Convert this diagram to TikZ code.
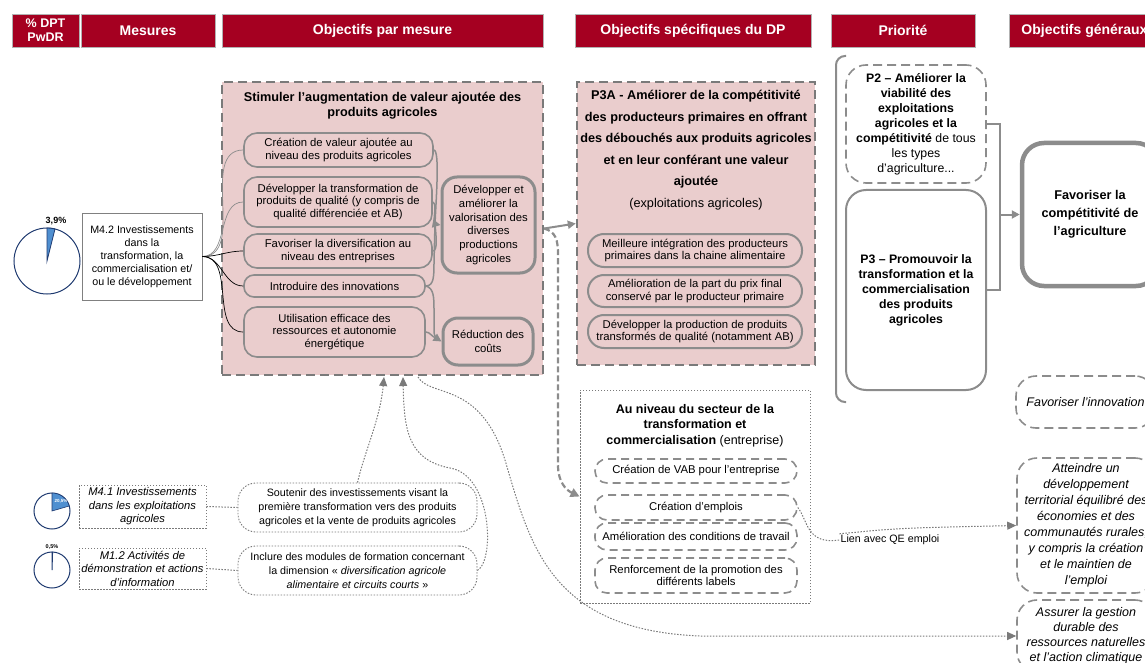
\documentclass[tikz,border=0pt]{standalone}
\usepackage{fontspec}
\setmainfont{Liberation Sans}
\usetikzlibrary{arrows.meta,calc}

\definecolor{hred}{HTML}{A50021}
\definecolor{pinkf}{HTML}{EACDCD}
\definecolor{lgray}{HTML}{8C8C8C}
\definecolor{dgray}{HTML}{7A7A7A}
\definecolor{navy}{HTML}{1F3A70}
\definecolor{pieblue}{HTML}{4F8FD0}

\begin{document}
\begin{tikzpicture}[x=1pt,y=-1pt,
  hdr/.style={draw=gray!60, line width=0.5pt, fill=hred, text=white,
    font=\bfseries\fontsize{14}{15}\selectfont, inner sep=0pt, align=center, minimum height=33pt},
  pinkbox/.style={draw=dgray, fill=pinkf, line width=2.4pt, dash pattern=on 9pt off 5pt, inner sep=0pt},
  rbox/.style={draw=lgray, fill=pinkf, line width=1.6pt, rounded corners=13pt, align=center,
    inner sep=0pt, font=\fontsize{11.3}{12.5}\selectfont},
  tbox/.style={rbox, line width=3pt, rounded corners=15pt},
  pill/.style={draw=lgray, fill=pinkf, line width=2pt, rounded corners=16pt, align=center,
    inner sep=0pt, font=\fontsize{11.3}{12.5}\selectfont},
  dpill/.style={draw=lgray, line width=1.6pt, dash pattern=on 8pt off 5pt, rounded corners=12pt,
    align=center, inner sep=0pt, font=\fontsize{11.3}{12.5}\selectfont},
  dotbox/.style={draw=dgray, line width=0.9pt, dash pattern=on 1.5pt off 1.5pt, inner sep=0pt, align=center},
  gline/.style={draw=lgray, line width=1.5pt},
  garrow/.style={gline, -{Triangle[length=8pt,width=8pt]}},
  mline/.style={line width=0.7pt},
  dotc/.style={draw=dgray, line width=1pt, dash pattern=on 1.5pt off 1.5pt},
  dotarrow/.style={dotc, -{Triangle[length=9pt,width=8pt]}},
  idash/.style={draw=lgray, line width=1.6pt, dash pattern=on 9pt off 5pt, rounded corners=20pt,
    align=center, inner sep=0pt, font=\itshape\fontsize{12.5}{16}\selectfont},
]
\useasboundingbox (0,0) rectangle (1145,663);

% ---------- column headers ----------
\node[hdr, minimum width=67pt, font=\bfseries\fontsize{12.5}{14}\selectfont] (h1) at (45.5,30.5) {\% DPT\\PwDR};
\node[hdr, minimum width=134pt] (h2) at (148,30.5) {Mesures};
\node[hdr, minimum width=321pt] (h3) at (382.5,30.5) {Objectifs par mesure};
\node[hdr, minimum width=236pt] (h4) at (693,30.5) {Objectifs spécifiques du DP};
\node[hdr, minimum width=144pt] (h5) at (903,30.5) {Priorité};
\node[hdr, minimum width=151pt] (h6) at (1084.5,30.5) {Objectifs généraux};

% ---------- measure M4.2 ----------
\draw[navy, line width=1pt] (47,261) circle[radius=33pt];
\filldraw[fill=pieblue, draw=navy, line width=0.8pt] (47,261) -- (47,228) arc[start angle=90, end angle=76, radius=33pt] -- cycle;
\node[font=\bfseries\fontsize{9}{10}\selectfont, inner sep=0pt] (p1l) at (56,221) {3,9\%};
\node[draw=gray, line width=0.6pt, minimum width=120pt, minimum height=87pt, align=center, inner sep=0pt,
  font=\fontsize{10.7}{13}\selectfont] (m42) at (142,256.5)
  {M4.2 Investissements\\dans la\\transformation, la\\commercialisation et/\\ou le développement};

% ---------- objectives per measure ----------
\node[pinkbox, minimum width=321pt, minimum height=293pt] (stim) at (382.5,228.5) {};
\node[font=\bfseries\fontsize{12.7}{14.5}\selectfont, align=center, inner sep=0pt] (stimt) at (382.5,105.5)
  {Stimuler l’augmentation de valeur ajoutée des\\produits agricoles};
\node[rbox, minimum width=189pt, minimum height=34pt] (cva) at (338.5,150) {Création de valeur ajoutée au\\niveau des produits agricoles};
\node[rbox, minimum width=188pt, minimum height=50pt] (dtq) at (338,202) {Développer la transformation de\\produits de qualité (y compris de\\qualité différenciée et AB)};
\node[rbox, minimum width=188pt, minimum height=34pt] (fdv) at (338,251) {Favoriser la diversification au\\niveau des entreprises};
\node[rbox, minimum width=181pt, minimum height=22pt, rounded corners=10pt] (iin) at (334.5,286) {Introduire des innovations};
\node[rbox, minimum width=181pt, minimum height=50pt] (uti) at (334.5,332) {Utilisation efficace des\\ressources et autonomie\\énergétique};
\node[tbox, minimum width=93pt, minimum height=96pt, font=\fontsize{11.3}{13.7}\selectfont] (dev) at (488.5,225)
  {Développer et\\améliorer la\\valorisation des\\diverses\\productions\\agricoles};
\node[tbox, minimum width=90pt, minimum height=47pt, font=\fontsize{11.3}{13.7}\selectfont] (red) at (488,341.5) {Réduction des\\coûts};

\coordinate (cv1) at (435,224);
\coordinate (cv2) at (436,338);
\draw[gline] (cva.east) .. controls (440,150) and (436,200) .. (cv1);
\draw[gline] (dtq.east) .. controls (438,205) and (432,220) .. (cv1);
\draw[gline] (fdv.east) .. controls (438,251) and (436,235) .. (cv1);
\draw[gline] (iin.east) .. controls (434,286) and (434,276) .. (434,262) -- (cv1);
\draw[garrow] (cv1) -- (dev.west);
\draw[gline] (iin.east) .. controls (434,288) and (434,298) .. (434,310) -- (434,328) .. controls (434,334) .. (cv2);
\draw[gline] (uti.east) .. controls (430,332) and (432,337) .. (cv2);
\draw[garrow] (cv2) -- (red.west);

\draw[mline, draw=lgray] (m42.east) to[out=0, in=180] (cva.west);
\draw[mline, draw=lgray] (m42.east) to[out=0, in=180] (dtq.west);
\draw[mline] (m42.east) to[out=0, in=180] (fdv.west);
\draw[mline] (m42.east) to[out=0, in=180] (iin.west);
\draw[mline] (m42.east) to[out=0, in=180] (uti.west);

% ---------- specific objective P3A ----------
\node[pinkbox, minimum width=238pt, minimum height=283pt] (p3a) at (696,223.5) {};
\node[font=\bfseries\fontsize{12.7}{21.5}\selectfont, align=center, inner sep=0pt, anchor=north] (p3at) at (696,90)
  {P3A - Améliorer de la compétitivité\\des producteurs primaires en offrant\\des débouchés aux produits agricoles\\et en leur conférant une valeur\\ajoutée\\{\mdseries (exploitations agricoles)}};
\node[pill, minimum width=214pt, minimum height=33pt] (mi) at (695,250.5) {Meilleure intégration des producteurs\\primaires dans la chaine alimentaire};
\node[pill, minimum width=214pt, minimum height=32pt] (am) at (695,291) {Amélioration de la part du prix final\\conservé par le producteur primaire};
\node[pill, minimum width=214pt, minimum height=33pt] (dp) at (695,331.5) {Développer la production de produits\\transformés de qualité (notamment AB)};

\draw[garrow, line width=2pt] (stim.east) -- (p3a.west);

% ---------- processing sector ----------
\node[dotbox, minimum width=230pt, minimum height=213pt] (ent) at (695,496.5) {};
\node[align=center, inner sep=0pt, font=\fontsize{12.5}{15.5}\selectfont] (entt) at (695,425.5)
  {\textbf{Au niveau du secteur de la}\\\textbf{transformation et}\\\textbf{commercialisation} (entreprise)};
\node[dpill, minimum width=202pt, minimum height=24pt] (vab) at (696,471) {Création de VAB pour l’entreprise};
\node[dpill, minimum width=202pt, minimum height=25pt] (emp) at (696,507.5) {Création d’emplois};
\node[dpill, minimum width=202pt, minimum height=27pt] (amc) at (696,536.5) {Amélioration des conditions de travail};
\node[dpill, minimum width=202pt, minimum height=35pt] (ren) at (696,575.5) {Renforcement de la promotion des\\différents labels};

\draw[draw=lgray, line width=2.2pt, dash pattern=on 6pt off 3pt, -{Triangle[length=9pt,width=9pt]}]
  (stim.east) .. controls (556,232) and (558,240) .. (558,255) -- (558,465) .. controls (558,482) and (566,490) .. (ent.west);

% ---------- priorities ----------
\draw[draw=lgray, line width=2pt, rounded corners=9pt] (846,56) -- (836,56) -- (836,402) -- (846,402);
\node[draw=lgray, line width=1.6pt, dash pattern=on 9pt off 5pt, rounded corners=20pt, minimum width=140pt,
  minimum height=118pt, align=center, inner sep=0pt, font=\fontsize{12.3}{15}\selectfont] (p2) at (916,124)
  {\textbf{P2 – Améliorer la}\\\textbf{viabilité des}\\\textbf{exploitations}\\\textbf{agricoles et la}\\\textbf{compétitivité} de tous\\les types\\d’agriculture...};
\node[draw=lgray, line width=2pt, rounded corners=20pt, minimum width=140pt, minimum height=200pt,
  align=center, inner sep=0pt, font=\bfseries\fontsize{12.3}{15}\selectfont] (p3) at (916,290)
  {P3 – Promouvoir la\\transformation et la\\commercialisation\\des produits\\agricoles};

% ---------- general objectives ----------
\node[draw=lgray, line width=4.5pt, rounded corners=22pt, minimum width=136pt, minimum height=143pt,
  align=center, inner sep=0pt, font=\bfseries\fontsize{12.7}{18}\selectfont] (fav) at (1090,214.5)
  {Favoriser la\\compétitivité de\\l’agriculture};
\coordinate (pj) at (1000,214.5);
\draw[gline, line width=2pt] (p2.east) -- (1000,124) -- (1000,290) -- (p3.east);
\draw[garrow, line width=2pt] (pj) -- (fav.west);

\node[idash, minimum width=139pt, minimum height=52pt] (inn) at (1085.5,402) {Favoriser l’innovation};
\node[idash, minimum width=138pt, minimum height=135pt] (att) at (1086,525.5)
  {Atteindre un\\développement\\territorial équilibré des\\économies et des\\communautés rurales,\\y compris la création\\et le maintien de\\l’emploi};
\node[idash, minimum width=138pt, minimum height=72pt, font=\itshape\fontsize{12.5}{15}\selectfont] (ass) at (1086,636)
  {Assurer la gestion\\durable des\\ressources naturelles\\et l’action climatique};

\node[font=\fontsize{10.7}{12}\selectfont, inner sep=1pt] (lien) at (890,540) {Lien avec QE emploi};
\draw[dotc] (emp.east) .. controls (808,520) and (806,545) .. (lien.west);
\draw[dotarrow] (lien.north west) .. controls (900,528) .. (att.west);

% ---------- measures M4.1 and M1.2 ----------
\draw[navy, line width=1pt] (52,511) circle[radius=18pt];
\filldraw[fill=pieblue, draw=navy, line width=0.6pt] (52,511) -- (52,493) arc[start angle=90, end angle=16.2, radius=18pt] -- cycle;
\node[text=white, font=\bfseries\fontsize{4.5}{5}\selectfont, inner sep=0pt] (p2l) at (61,501) {20,5\%};
\draw[navy, line width=1pt] (52,570) circle[radius=18pt];
\filldraw[fill=pieblue, draw=navy, line width=1pt] (52,570) -- (52,552) arc[start angle=90, end angle=88.2, radius=18pt] -- cycle;
\node[font=\bfseries\fontsize{5.5}{6}\selectfont, inner sep=0pt] (p3l) at (52,547) {0,5\%};

\node[dotbox, minimum width=127pt, minimum height=43pt, font=\itshape\fontsize{11.2}{13.5}\selectfont] (m41) at (142.5,506.5)
  {M4.1 Investissements\\dans les exploitations\\agricoles};
\node[dotbox, minimum width=127pt, minimum height=41pt, font=\itshape\fontsize{11.2}{13.5}\selectfont] (m12) at (142.5,568.5)
  {M1.2 Activités de\\démonstration et actions\\d’information};
\node[dotbox, rounded corners=18pt, minimum width=239pt, minimum height=49pt, font=\fontsize{10.7}{14}\selectfont] (sou) at (357.5,507.5)
  {Soutenir des investissements visant la\\première transformation vers des produits\\agricoles et la vente de produits agricoles};
\node[dotbox, rounded corners=18pt, minimum width=239pt, minimum height=49pt, font=\fontsize{10.7}{14}\selectfont] (inc) at (357.5,570.5)
  {Inclure des modules de formation concernant\\la dimension « \textit{diversification agricole}\\\textit{alimentaire et circuits courts} »};
\draw[dotc] (m41.east) -- (sou.west);
\draw[dotc] (m12.east) -- (inc.west);

\coordinate (a1) at (384,377);
\coordinate (a2) at (403,377);
\coordinate (a3) at (418,377);
\draw[dotarrow] (sou.north) .. controls (365,450) and (380,420) .. (a1);
\draw[dotarrow] (inc.east) .. controls (495,560) and (492,475) .. (450,468) .. controls (408,460) and (404,430) .. (a2);
\draw[dotarrow] (a3) .. controls (430,398) and (480,380) .. (505,460) .. controls (530,545) and (550,630) .. (700,636) -- (ass.west);
\end{tikzpicture}
\end{document}
